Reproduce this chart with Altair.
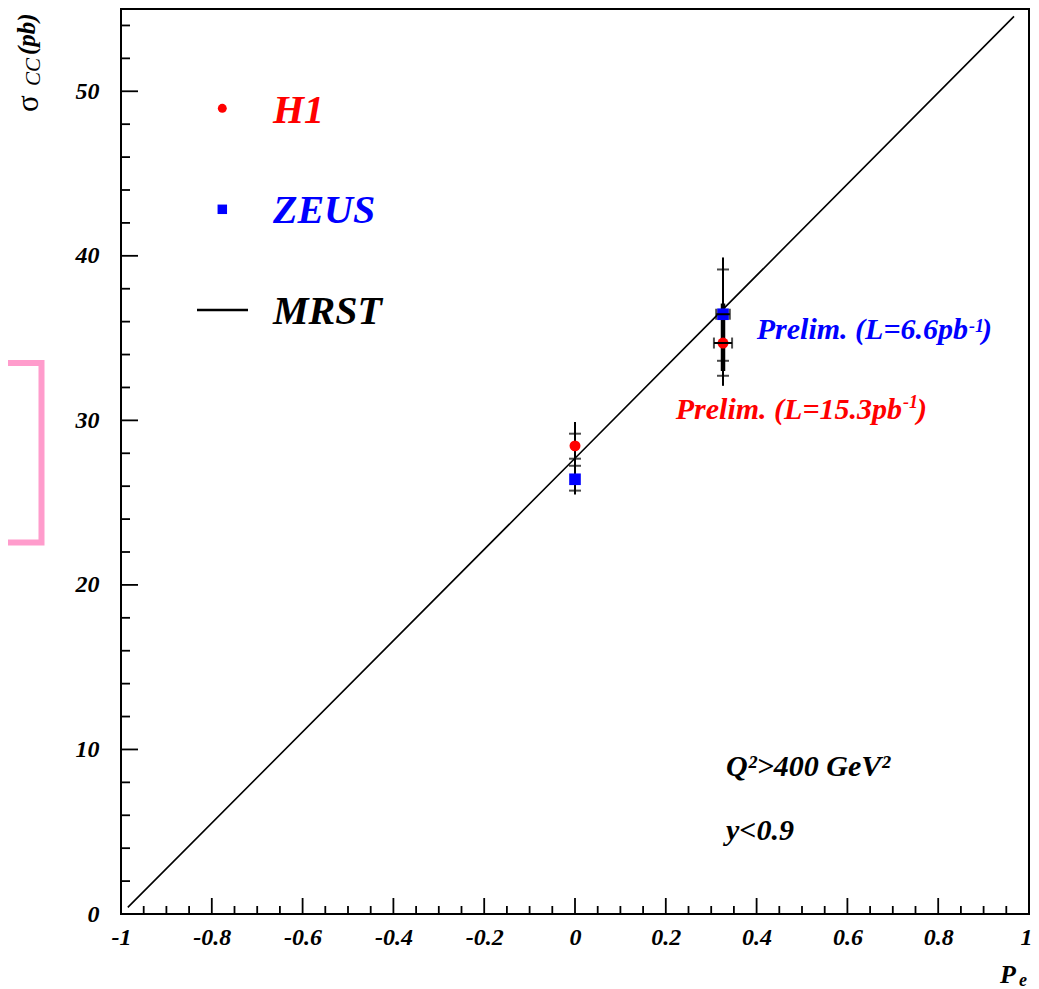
import altair as alt
import pandas as pd

# ---------------- data ----------------
experiment = ["H1", "ZEUS", "H1", "ZEUS"]
pe = [0.0, 0.0, 0.326, 0.326]
sigma = [28.45, 26.42, 34.7, 36.45]
pe_err = [0.0, 0.0, 0.020, 0.015]

# vertical error lines (shared per polarisation point)
vbar_pe = [0.0, 0.326, 0.326]
vbar_lo = [25.5, 32.1, 33.0]
vbar_hi = [29.9, 39.9, 37.1]
vbar_kind = ["outer", "outer", "inner"]

# small cross-bars on the error lines
cap_pe = [0.0, 0.0, 0.0, 0.0, 0.326, 0.326, 0.326]
cap_sigma = [29.19, 27.67, 27.24, 25.73, 39.17, 33.62, 32.71]

# MRST prediction
mrst_pe = [-0.985, 0.0, 0.967]
mrst_sigma = [0.4, 27.7, 54.55]

# ticks
x_major = [-1.0, -0.8, -0.6, -0.4, -0.2, 0.0, 0.2, 0.4, 0.6, 0.8, 1.0]
x_minor = [round(-1 + 0.05 * i, 2) for i in range(41) if i % 4]
y_major = [0, 10, 20, 30, 40, 50]
y_minor = [v for v in range(2, 55, 2) if v % 10]

# ---------------- layout ----------------
W, H = 908, 905
OX, OY = 121, 9  # page position of plot origin


def px(x):
    return x - OX


def py(y):
    return y - OY


FONT = "Liberation Serif, Times New Roman, serif"
XS = alt.Scale(domain=[-1, 1], nice=False, zero=False)
YS = alt.Scale(domain=[0, 55], nice=False, zero=False)

x_axis = alt.Axis(
    values=x_major, title=None, domain=False, ticks=False, tickSize=0, grid=False,
    labelExpr="replace(format(datum.value, '.1~f'), '\u2212', '-')",
    labelFont=FONT, labelFontSize=24, labelFontStyle="italic", labelFontWeight="bold",
    labelColor="black", labelPadding=11, labelFlush=False, labelOverlap=False,
    labelBaseline="top",
    labelAlign={"condition": {"test": "datum.value == 1", "value": "right"}, "value": "center"},
    labelOffset={"condition": {"test": "datum.value == 1", "value": 3}, "value": 0},
)
y_axis = alt.Axis(
    values=y_major, title=None, domain=False, ticks=False, tickSize=0, grid=False,
    labelFont=FONT, labelFontSize=24, labelFontStyle="italic", labelFontWeight="bold",
    labelColor="black", labelPadding=22, labelFlush=False, labelOverlap=False,
)


def X(f):
    return alt.X(f, type="quantitative", scale=XS, axis=x_axis)


def Y(f):
    return alt.Y(f, type="quantitative", scale=YS, axis=y_axis)


layers = []

# inward ticks
layers.append(alt.Chart(pd.DataFrame({"v": x_major})).mark_rule(color="black", strokeWidth=1.8)
              .encode(x=X("v"), y=alt.value(H), y2=alt.value(H - 16)))
layers.append(alt.Chart(pd.DataFrame({"v": x_minor})).mark_rule(color="black", strokeWidth=1.8)
              .encode(x=X("v"), y=alt.value(H), y2=alt.value(H - 8)))
layers.append(alt.Chart(pd.DataFrame({"v": y_major})).mark_rule(color="black", strokeWidth=1.8)
              .encode(y=Y("v"), x=alt.value(0), x2=alt.value(17)))
layers.append(alt.Chart(pd.DataFrame({"v": y_minor})).mark_rule(color="black", strokeWidth=1.8)
              .encode(y=Y("v"), x=alt.value(0), x2=alt.value(9)))

# MRST line
layers.append(alt.Chart(pd.DataFrame({"pe": mrst_pe, "sigma": mrst_sigma}))
              .mark_line(color="black", strokeWidth=1.6)
              .encode(x=X("pe"), y=Y("sigma")))

# vertical error lines
layers.append(alt.Chart(pd.DataFrame({"pe": vbar_pe, "lo": vbar_lo, "hi": vbar_hi, "kind": vbar_kind}))
              .mark_rule(color="black")
              .encode(x=X("pe"), y=Y("lo"), y2="hi",
                      strokeWidth=alt.StrokeWidth("kind:N", scale=alt.Scale(domain=["outer", "inner"], range=[2, 4.5]), legend=None)))

# cross bars
layers.append(alt.Chart(pd.DataFrame({"pe": cap_pe, "sigma": cap_sigma}))
              .mark_tick(orient="horizontal", size=12, thickness=2, color="black")
              .encode(x=X("pe"), y=Y("sigma")))

pts = pd.DataFrame({"experiment": experiment, "pe": pe, "sigma": sigma, "pe_err": pe_err})

# markers
layers.append(alt.Chart(pts).mark_point(filled=True, opacity=1, strokeWidth=0)
              .encode(x=X("pe"), y=Y("sigma"),
                      shape=alt.Shape("experiment:N", scale=alt.Scale(domain=["H1", "ZEUS"], range=["circle", "square"]), legend=None),
                      color=alt.Color("experiment:N", scale=alt.Scale(domain=["H1", "ZEUS"], range=["#ff0000", "#0000ff"]), legend=None),
                      size=alt.Size("experiment:N", scale=alt.Scale(domain=["H1", "ZEUS"], range=[120, 135]), legend=None)))

# horizontal error bars with end caps
herr = (alt.Chart(pts).transform_filter("datum.pe_err > 0")
        .transform_calculate(lo="datum.pe - datum.pe_err", hi="datum.pe + datum.pe_err"))
layers.append(herr.mark_rule(color="black", strokeWidth=2).encode(x=X("lo:Q"), x2="hi:Q", y=Y("sigma")))
layers.append(herr.mark_tick(orient="vertical", size=11, thickness=2, color="black").encode(x=X("lo:Q"), y=Y("sigma")))
layers.append(herr.mark_tick(orient="vertical", size=11, thickness=2, color="black").encode(x=X("hi:Q"), y=Y("sigma")))


def label(text, x, y, size, color="black", align="left", angle=0, style="italic", weight="bold", baseline="alphabetic"):
    return (alt.Chart(pd.DataFrame({"t": [text]}))
            .mark_text(align=align, baseline=baseline, font=FONT, fontSize=size, fontStyle=style,
                       fontWeight=weight, color=color, angle=angle)
            .encode(x=alt.value(px(x)), y=alt.value(py(y)), text="t:N"))


# legend
layers.append(alt.Chart(pd.DataFrame({"k": ["H1"]})).mark_point(filled=True, shape="circle", size=80, color="#ff0000", opacity=1, strokeWidth=0)
              .encode(x=alt.value(px(222.3)), y=alt.value(py(108.3))))
layers.append(alt.Chart(pd.DataFrame({"k": ["ZEUS"]})).mark_point(filled=True, shape="square", size=90, color="#0000ff", opacity=1, strokeWidth=0)
              .encode(x=alt.value(px(222.3)), y=alt.value(py(209.3))))
layers.append(alt.Chart(pd.DataFrame({"k": ["MRST"]})).mark_rule(color="black", strokeWidth=2.5)
              .encode(x=alt.value(px(197)), x2=alt.value(px(248)), y=alt.value(py(310))))
layers.append(label("H1", 273, 122.7, 40, "#ff0000"))
layers.append(label("ZEUS", 273, 222.7, 40, "#0000ff"))
layers.append(label("MRST", 273, 324, 40, "black"))

# annotations
layers.append(label("Prelim. (L=6.6pb", 968, 339.3, 30, "#0000ff", align="right"))
layers.append(label("-1", 969, 331.5, 18, "#0000ff"))
layers.append(label(")", 982, 339.3, 30, "#0000ff"))
layers.append(label("Prelim. (L=15.3pb", 902, 419.3, 30, "#ff0000", align="right"))
layers.append(label("-1", 903, 407.5, 18, "#ff0000"))
layers.append(label(")", 917, 419.3, 30, "#ff0000"))
layers.append(label("Q\u00b2>400 GeV\u00b2", 726, 776, 30))
layers.append(label("y<0.9", 726, 840, 30))

# axis titles
layers.append(label("\u03c3", 38, 112, 31, angle=270, style="normal", weight="normal"))
layers.append(label("CC", 40, 86, 21, angle=270, style="italic", weight="normal"))
layers.append(label("(pb)", 35, 55, 25, angle=270))
layers.append(label("P", 1000, 983, 26))
layers.append(label("e", 1019, 986, 18))

# decorations outside the frame
layers.append(alt.Chart(pd.DataFrame({"k": [0]})).mark_rect(fill=None, stroke="#ff9ccc", strokeWidth=6)
              .encode(x=alt.value(px(-20)), x2=alt.value(px(41.5)), y=alt.value(py(363)), y2=alt.value(py(542.5))))
layers.append(alt.Chart(pd.DataFrame({"k": [0]})).mark_rect(color="#ffff99")
              .encode(x=alt.value(px(313)), x2=alt.value(px(858)), y=alt.value(py(0)), y2=alt.value(py(7))))

chart = (alt.layer(*layers)
         .properties(width=W, height=H, autosize=alt.AutoSizeParams(type="none"),
                     padding={"left": 113, "top": 1, "right": 2, "bottom": 75}, background="white")
         .configure_view(stroke="black", strokeWidth=2))

chart.save("out.html", embed_options={"renderer": "svg", "actions": False})
